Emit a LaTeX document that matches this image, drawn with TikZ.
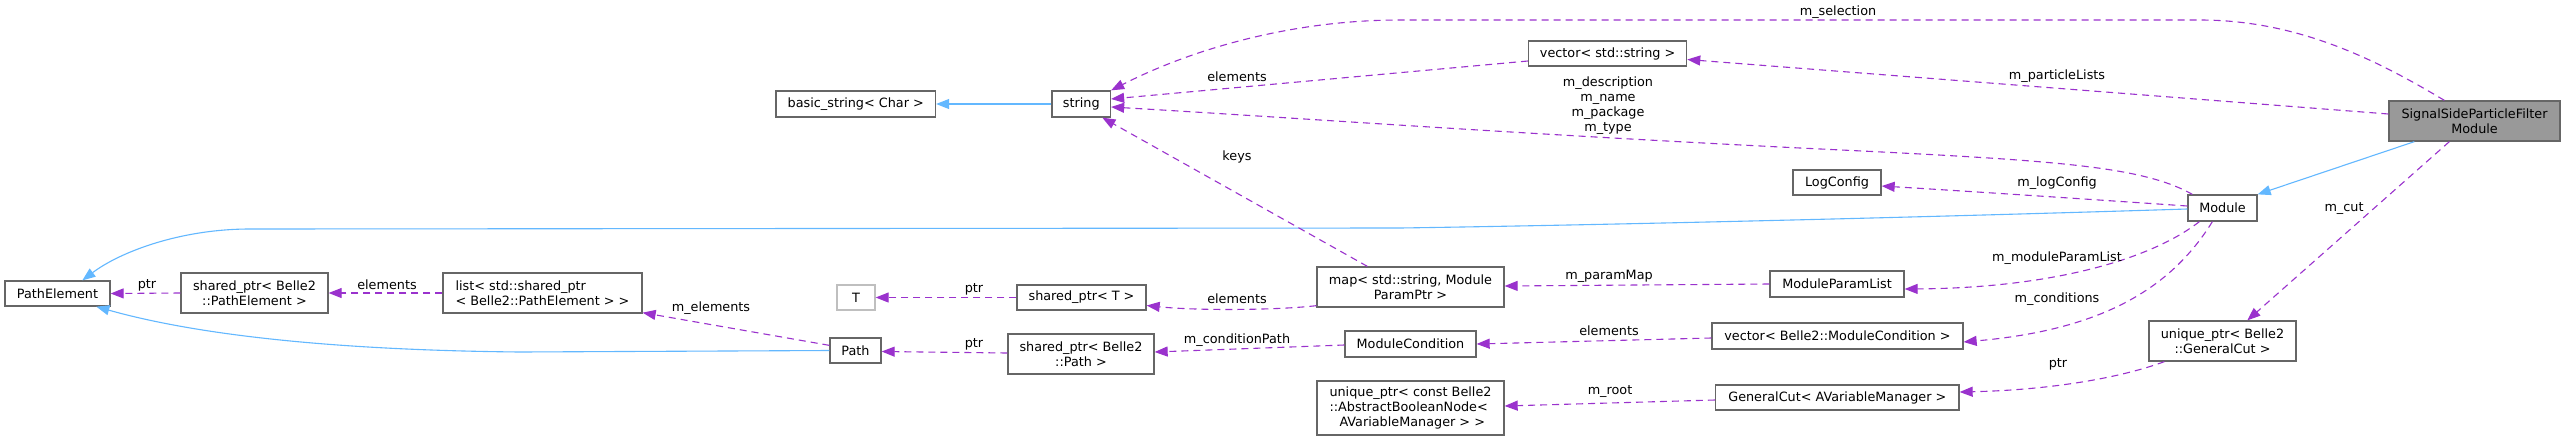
\documentclass[tikz,border=0pt]{standalone}
\usepackage{fontspec}
\setmainfont{DejaVu Sans}
\usetikzlibrary{arrows.meta,calc}
\definecolor{edgepurple}{HTML}{9A32CD}
\definecolor{edgeblue}{HTML}{63B8FF}
\definecolor{boxgray}{HTML}{666666}
\definecolor{lightbox}{HTML}{BFBFBF}
\definecolor{fillgray}{HTML}{999999}
\begin{document}
\begin{tikzpicture}[x=1pt,y=-1pt,
  every node/.style={font=\fontsize{12.8pt}{15pt}\selectfont, inner sep=0pt},
  cls/.style={draw=boxgray, line width=1.3pt, fill=white, align=center},
  usage/.style={draw=edgepurple, line width=1.1pt, dash pattern=on 7pt off 5pt, -{Triangle[length=13pt,width=10pt]}},
  inherit/.style={draw=edgeblue, line width=1.1pt, -{Triangle[length=13pt,width=10pt]}},
  lbl/.style={align=center}
]
\useasboundingbox[fill=white] (0,0) rectangle (2565,440);

% nodes
\node[cls, minimum width=105pt, minimum height=25pt] (pe) at (57.5,293.5) {PathElement};
\node[cls, minimum width=147pt, minimum height=40pt] (sppe) at (254.5,293) {shared\_ptr< Belle2\\::PathElement >};
\node[cls, align=left, minimum width=199pt, minimum height=40pt] (list) at (542.5,293) {list< std::shared\_ptr\\< Belle2::PathElement > >};
\node[cls, draw=lightbox, minimum width=38pt, minimum height=25pt] (t) at (856,297.5) {T};
\node[cls, minimum width=129pt, minimum height=25pt] (spt) at (1081.5,297.5) {shared\_ptr< T >};
\node[cls, minimum width=51pt, minimum height=25pt] (path) at (855.5,350.5) {Path};
\node[cls, minimum width=146pt, minimum height=40pt] (sppath) at (1081,354) {shared\_ptr< Belle2\\::Path >};
\node[cls, minimum width=187pt, minimum height=40pt] (map) at (1410.5,287) {map< std::string, Module\\ParamPtr >};
\node[cls, minimum width=131pt, minimum height=26pt] (mc) at (1410.5,344) {ModuleCondition};
\node[cls, align=left, minimum width=187pt, minimum height=54pt] (abs) at (1410.5,408) {unique\_ptr< const Belle2\\::AbstractBooleanNode<\\\hspace*{10pt}AVariableManager > >};
\node[cls, minimum width=159.5pt, minimum height=26pt] (bs) at (855.75,104) {basic\_string< Char >};
\node[cls, minimum width=58.5pt, minimum height=26pt] (str) at (1081.25,104) {string};
\node[cls, minimum width=158pt, minimum height=25pt] (vs) at (1607.6,53.5) {vector< std::string >};
\node[cls, minimum width=88pt, minimum height=25pt] (log) at (1837,182.5) {LogConfig};
\node[cls, minimum width=134pt, minimum height=26pt] (mpl) at (1837,284) {ModuleParamList};
\node[cls, minimum width=251pt, minimum height=26pt] (vmc) at (1837.5,336) {vector< Belle2::ModuleCondition >};
\node[cls, minimum width=243.4pt, minimum height=25pt] (gc) at (1837.3,397.5) {GeneralCut< AVariableManager >};
\node[cls, minimum width=69pt, minimum height=26pt] (mod) at (2222.5,208) {Module};
\node[cls, fill=fillgray, minimum width=171pt, minimum height=40pt] (sig) at (2474.5,121) {SignalSideParticleFilter\\Module};
\node[cls, minimum width=147pt, minimum height=40pt] (upgc) at (2222.5,341) {unique\_ptr< Belle2\\::GeneralCut >};

% inheritance edges
\draw[inherit] (str.west) -- (bs.east);
\draw[inherit] ($(sig.south west)+(26,0)$) -- (mod.north east);
\draw[inherit] ($(mod.west)+(0,1)$) .. controls (1900,218) and (1600,225) .. (1400,228) -- (250,229) .. controls (180,229) and (120,252) .. ($(pe.north west)+(78,0)$);
\draw[inherit] (path.west) -- (520,352) .. controls (320,350) and (190,333) .. ($(pe.south west)+(92,0)$);

% usage edges
\draw[usage] ($(sig.north west)+(56,0)$) .. controls (2380,62) and (2300,20) .. (2200,20) -- (1400,20) .. controls (1290,20) and (1190,50) .. (str.north east);
\draw[usage] ($(vs.west)+(0,7.5)$) -- ($(str.east)+(0,-5)$);
\draw[usage] ($(sig.west)+(0,-7)$) -- ($(vs.east)+(0,6)$);
\draw[usage] ($(mod.north west)+(5,0)$) .. controls (2140,165) and (2050,160) .. (1800,148) .. controls (1500,133) and (1300,118) .. ($(str.east)+(0,3)$);
\draw[usage] ($(map.north west)+(51,0)$) -- ($(str.south west)+(51,0)$);
\draw[usage] ($(mod.west)+(0,-2)$) .. controls (2100,200) and (1980,192) .. ($(log.east)+(0,3.5)$);
\draw[usage] (sppe.west) -- (pe.east);
\draw[usage] (list.west) -- (sppe.east);
\draw[usage] ($(path.north west)+(0,8)$) -- ($(list.south east)+(0,-1)$);
\draw[usage] (spt.west) -- (t.east);
\draw[usage] ($(map.south west)+(0,-2)$) .. controls (1280,310) and (1200,311) .. ($(spt.east)+(0,8)$);
\draw[usage] ($(sppath.west)+(0,-1)$) -- ($(path.east)+(0,1)$);
\draw[usage] ($(mc.west)+(0,1)$) -- ($(sppath.east)+(0,-2)$);
\draw[usage] (mpl.west) -- ($(map.east)+(0,-1)$);
\draw[usage] ($(mod.south west)+(12,0)$) .. controls (2150,260) and (2050,288) .. ($(mpl.east)+(0,5)$);
\draw[usage] ($(vmc.west)+(0,2)$) -- (mc.east);
\draw[usage] ($(mod.south west)+(25,0)$) .. controls (2170,290) and (2100,330) .. ($(vmc.east)+(0,6)$);
\draw[usage] ($(sig.south west)+(61,0)$) -- ($(upgc.north west)+(99,0)$);
\draw[usage] ($(upgc.south west)+(16,0)$) .. controls (2120,378) and (2050,390) .. ($(gc.east)+(0,-5.5)$);
\draw[usage] ($(gc.west)+(0,2.5)$) -- ($(abs.east)+(0,-2)$);

% edge labels
\node[lbl] (l1) at (1838,12) {m\_selection};
\node[lbl] (l2) at (1237,77) {elements};
\node[lbl] (l3) at (2057,76) {m\_particleLists};
\node[lbl] (l4) at (1608,105.5) {m\_description\\m\_name\\m\_package\\m\_type};
\node[lbl] (l5) at (1237,157) {keys};
\node[lbl] (l6) at (2057,183) {m\_logConfig};
\node[lbl] (l7) at (147,285) {ptr};
\node[lbl] (l8) at (387,285) {elements};
\node[lbl] (l9) at (711,308) {m\_elements};
\node[lbl] (l10) at (974,289) {ptr};
\node[lbl] (l11) at (1237,299) {elements};
\node[lbl] (l12) at (974,344) {ptr};
\node[lbl] (l13) at (1237,340) {m\_conditionPath};
\node[lbl] (l14) at (1609,276) {m\_paramMap};
\node[lbl] (l15) at (2057,258) {m\_moduleParamList};
\node[lbl] (l16) at (1609,331) {elements};
\node[lbl] (l17) at (2057,299) {m\_conditions};
\node[lbl] (l18) at (2344,209) {m\_cut};
\node[lbl] (l19) at (2058,364) {ptr};
\node[lbl] (l20) at (1610,392) {m\_root};
\end{tikzpicture}
\end{document}
